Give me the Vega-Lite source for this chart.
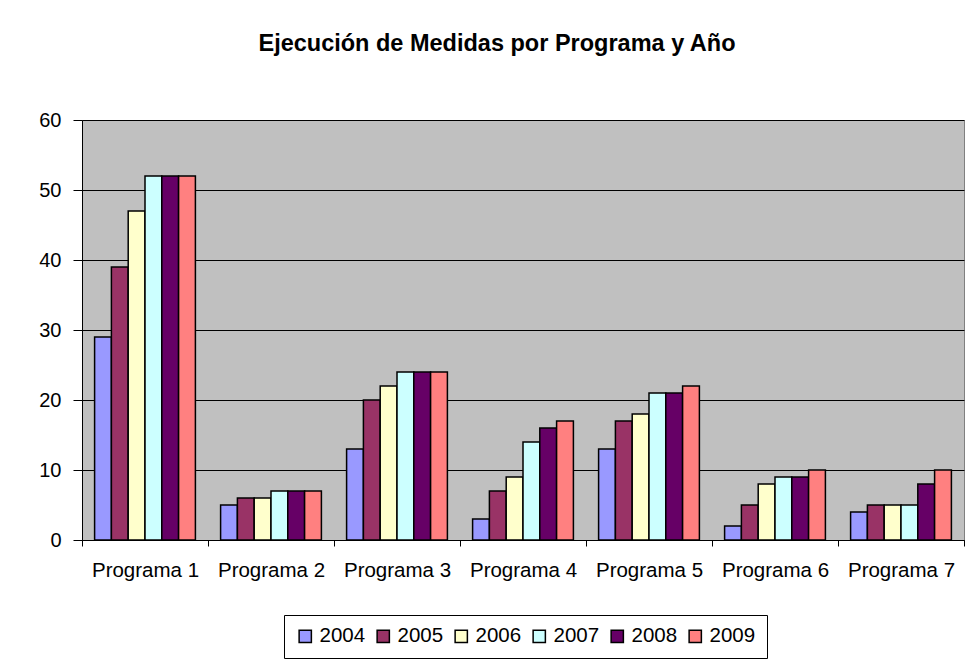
{
  "$schema": "https://vega.github.io/schema/vega-lite/v6.json",
  "width": 882,
  "height": 420,
  "autosize": {"type": "none"},
  "padding": {"left": 82, "top": 120, "right": 8, "bottom": 122},
  "background": "white",
  "title": {
    "text": "Ejecución de Medidas por Programa y Año",
    "font": "Liberation Sans",
    "fontSize": 23.5,
    "fontWeight": "bold",
    "color": "black",
    "anchor": "middle",
    "frame": "group",
    "dx": -26,
    "offset": 55
  },
  "data": {
    "values": [
      {"programa": "Programa 1", "anio": "2004", "valor": 29},
      {"programa": "Programa 1", "anio": "2005", "valor": 39},
      {"programa": "Programa 1", "anio": "2006", "valor": 47},
      {"programa": "Programa 1", "anio": "2007", "valor": 52},
      {"programa": "Programa 1", "anio": "2008", "valor": 52},
      {"programa": "Programa 1", "anio": "2009", "valor": 52},
      {"programa": "Programa 2", "anio": "2004", "valor": 5},
      {"programa": "Programa 2", "anio": "2005", "valor": 6},
      {"programa": "Programa 2", "anio": "2006", "valor": 6},
      {"programa": "Programa 2", "anio": "2007", "valor": 7},
      {"programa": "Programa 2", "anio": "2008", "valor": 7},
      {"programa": "Programa 2", "anio": "2009", "valor": 7},
      {"programa": "Programa 3", "anio": "2004", "valor": 13},
      {"programa": "Programa 3", "anio": "2005", "valor": 20},
      {"programa": "Programa 3", "anio": "2006", "valor": 22},
      {"programa": "Programa 3", "anio": "2007", "valor": 24},
      {"programa": "Programa 3", "anio": "2008", "valor": 24},
      {"programa": "Programa 3", "anio": "2009", "valor": 24},
      {"programa": "Programa 4", "anio": "2004", "valor": 3},
      {"programa": "Programa 4", "anio": "2005", "valor": 7},
      {"programa": "Programa 4", "anio": "2006", "valor": 9},
      {"programa": "Programa 4", "anio": "2007", "valor": 14},
      {"programa": "Programa 4", "anio": "2008", "valor": 16},
      {"programa": "Programa 4", "anio": "2009", "valor": 17},
      {"programa": "Programa 5", "anio": "2004", "valor": 13},
      {"programa": "Programa 5", "anio": "2005", "valor": 17},
      {"programa": "Programa 5", "anio": "2006", "valor": 18},
      {"programa": "Programa 5", "anio": "2007", "valor": 21},
      {"programa": "Programa 5", "anio": "2008", "valor": 21},
      {"programa": "Programa 5", "anio": "2009", "valor": 22},
      {"programa": "Programa 6", "anio": "2004", "valor": 2},
      {"programa": "Programa 6", "anio": "2005", "valor": 5},
      {"programa": "Programa 6", "anio": "2006", "valor": 8},
      {"programa": "Programa 6", "anio": "2007", "valor": 9},
      {"programa": "Programa 6", "anio": "2008", "valor": 9},
      {"programa": "Programa 6", "anio": "2009", "valor": 10},
      {"programa": "Programa 7", "anio": "2004", "valor": 4},
      {"programa": "Programa 7", "anio": "2005", "valor": 5},
      {"programa": "Programa 7", "anio": "2006", "valor": 5},
      {"programa": "Programa 7", "anio": "2007", "valor": 5},
      {"programa": "Programa 7", "anio": "2008", "valor": 8},
      {"programa": "Programa 7", "anio": "2009", "valor": 10}
    ]
  },
  "mark": {"type": "bar", "stroke": "black", "strokeWidth": 1.5},
  "encoding": {
    "x": {
      "field": "programa",
      "type": "nominal",
      "scale": {"paddingInner": 0, "paddingOuter": 0},
      "axis": {
        "title": null,
        "labelAngle": 0,
        "labelFont": "Liberation Sans",
        "labelFontSize": 20.5,
        "labelColor": "black",
        "labelPadding": 14,
        "tickBand": "extent",
        "tickColor": "black",
        "tickSize": 6,
        "domainColor": "black",
        "grid": false
      }
    },
    "xOffset": {
      "field": "anio",
      "type": "nominal",
      "scale": {"paddingInner": 0, "paddingOuter": 0.75}
    },
    "y": {
      "field": "valor",
      "type": "quantitative",
      "scale": {"domain": [0, 60], "nice": false},
      "axis": {
        "title": null,
        "values": [0, 10, 20, 30, 40, 50, 60],
        "labelFont": "Liberation Sans",
        "labelFontSize": 20,
        "labelColor": "black",
        "labelPadding": 12,
        "tickColor": "black",
        "tickSize": 9,
        "domainColor": "black",
        "gridColor": "black",
        "gridOpacity": 1,
        "gridWidth": 1
      }
    },
    "color": {
      "field": "anio",
      "type": "nominal",
      "scale": {
        "domain": ["2004", "2005", "2006", "2007", "2008", "2009"],
        "range": ["#9999FF", "#993366", "#FFFFCC", "#CCFFFF", "#660066", "#FF8080"]
      },
      "legend": {
        "title": null,
        "orient": "none",
        "direction": "horizontal",
        "legendX": 202,
        "legendY": 495,
        "padding": 11,
        "strokeColor": "black",
        "symbolType": "square",
        "symbolSize": 150,
        "symbolStrokeColor": "black",
        "symbolStrokeWidth": 1.5,
        "symbolOpacity": 1,
        "labelFont": "Liberation Sans",
        "labelFontSize": 20.5,
        "labelColor": "black",
        "labelOffset": 4,
        "columnPadding": 7
      }
    }
  },
  "config": {
    "view": {"fill": "#C0C0C0", "stroke": "#808080", "strokeWidth": 1}
  }
}
